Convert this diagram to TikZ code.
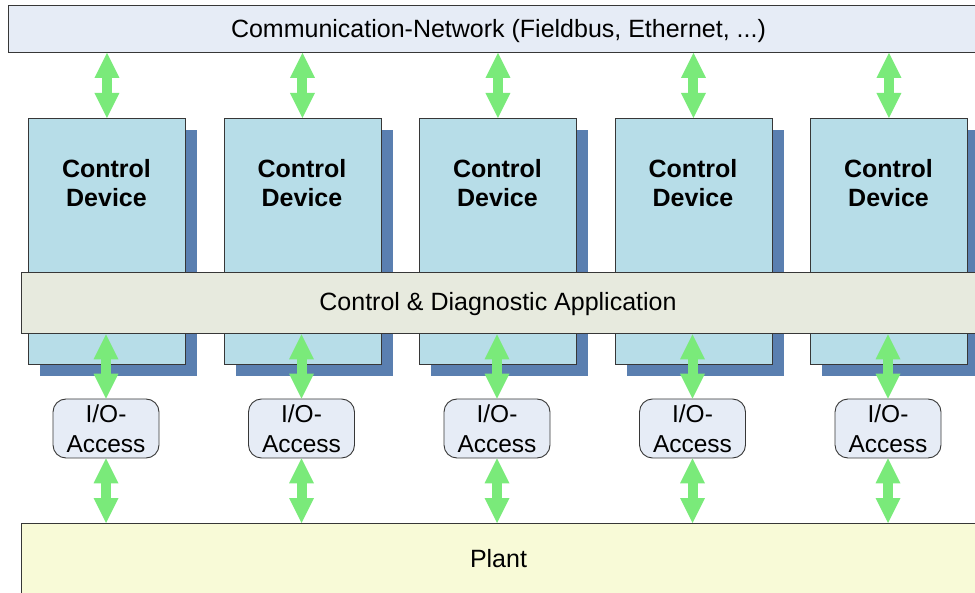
\documentclass[tikz,border=0pt]{standalone}
\usepackage{fontspec}
\setmainfont{Liberation Sans}
\usetikzlibrary{arrows.meta,shadows}
\definecolor{netfill}{RGB}{230,236,246}
\definecolor{devfill}{RGB}{183,221,232}
\definecolor{shadowblue}{RGB}{90,127,176}
\definecolor{appfill}{RGB}{231,234,222}
\definecolor{plantfill}{RGB}{248,250,215}
\definecolor{arrowgreen}{RGB}{122,234,122}
\definecolor{edgegray}{RGB}{55,55,55}
\tikzset{
  box/.style={draw=edgegray, line width=0.9pt, rectangle, inner sep=0pt, anchor=north west},
  devbox/.style={box, fill=devfill, minimum width=157pt, minimum height=246pt,
    drop shadow={shadow xshift=12pt, shadow yshift=-11.5pt, fill=shadowblue, opacity=1}},
  iobox/.style={draw=edgegray, line width=0.9pt, fill=netfill, rounded corners=13pt,
    minimum width=106pt, minimum height=59pt, inner sep=0pt, align=center,
    font=\fontsize{24.5}{30}\selectfont},
  txt/.style={font=\fontsize{25}{29}\selectfont, align=center, inner sep=0pt},
  boldtxt/.style={txt, font=\fontsize{25}{29}\selectfont\bfseries},
  dbl/.style={draw=arrowgreen, line width=10pt,
    {Triangle[width=25pt,length=25pt,line width=0pt,fill=arrowgreen]}-{Triangle[width=25pt,length=25pt,line width=0pt,fill=arrowgreen]}}
}
\begin{document}
\begin{tikzpicture}[x=1pt,y=-1pt]
\useasboundingbox (0,0) rectangle (975,593);
% communication network
\node[box, fill=netfill, minimum width=975pt, minimum height=47pt] (net) at (8,5) {};
\node[txt] (nett) at (498.5,31) {Communication-Network (Fieldbus, Ethernet, ...)};
% control devices
\foreach \i in {1,...,5}{
  \node[devbox] (d\i) at ({28+195.5*(\i-1)},118) {};
  \node[boldtxt] (d\i t) at ({106.5+195.5*(\i-1)},183.5) {Control\\Device};
}
% application bar
\node[box, fill=appfill, minimum width=960pt, minimum height=61.5pt] (app) at (20.5,272) {};
\node[txt] (appt) at (498,304) {Control \& Diagnostic Application};
% I/O access
\foreach \i in {1,...,5}{
  \node[iobox] (io\i) at ({106+195.5*(\i-1)},428.5) {I/O-\\Access};
}
% plant
\node[box, fill=plantfill, minimum width=960pt, minimum height=80pt] (plant) at (20.5,523) {};
\node[txt] (plantt) at (498.5,558.5) {Plant};
% connectors
\foreach \i in {1,...,5}{
  \draw[dbl] (d\i.north |- net.south) -- (d\i.north);
  \draw[dbl] (io\i.north |- app.south) -- (io\i.north);
  \draw[dbl] (io\i.south) -- (io\i.south |- plant.north);
}
\end{tikzpicture}
\end{document}
